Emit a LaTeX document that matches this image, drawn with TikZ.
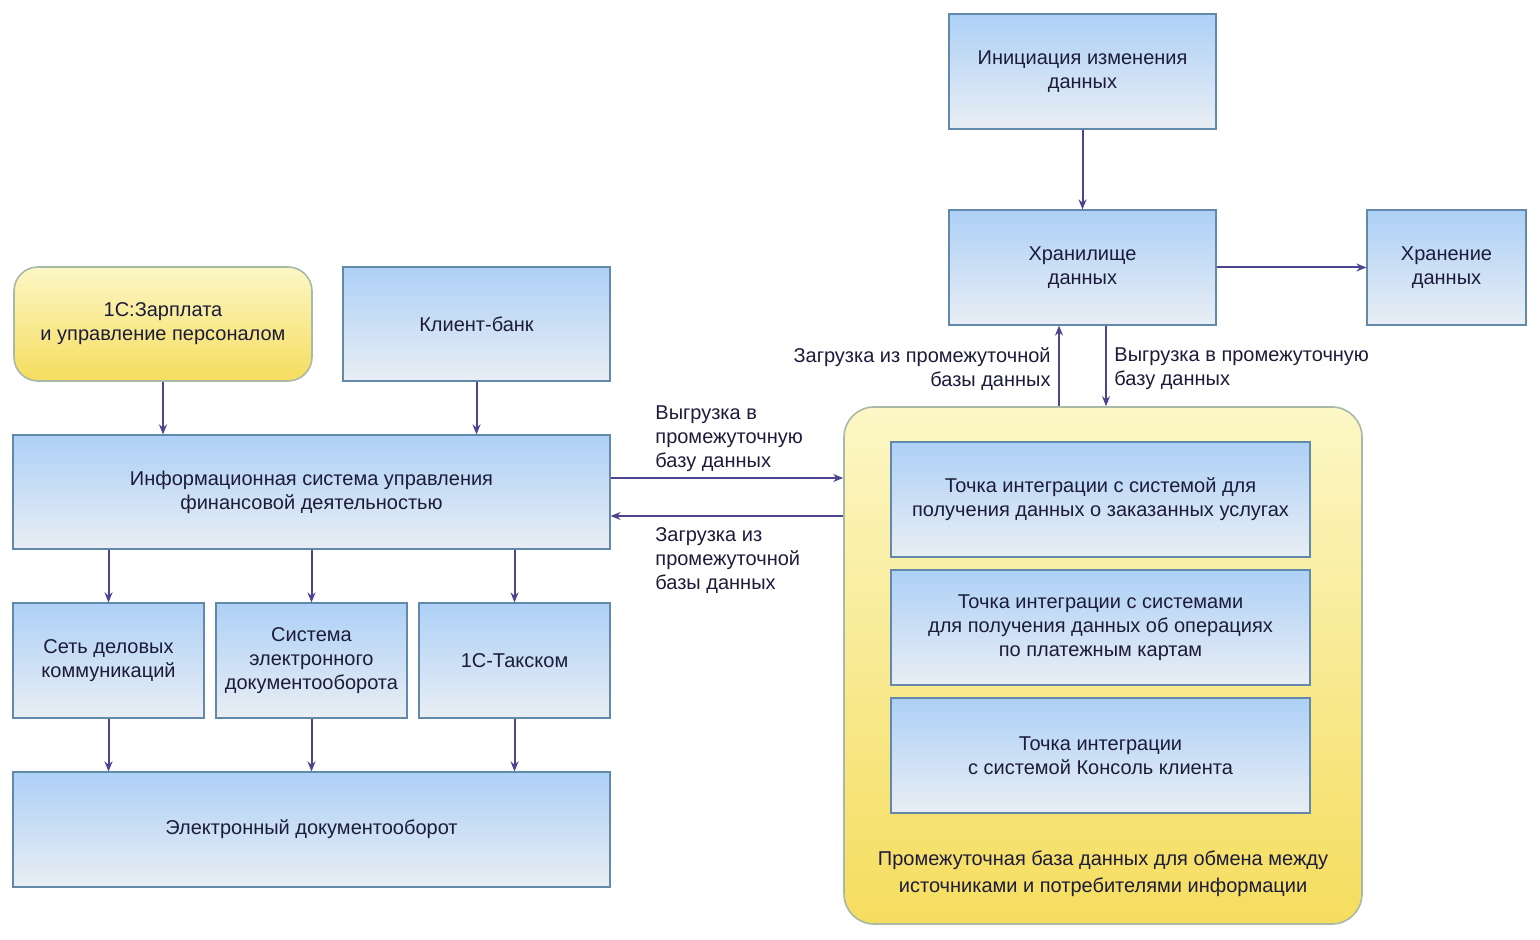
\documentclass[tikz,border=0pt]{standalone}
\usepackage{fontspec}
\setmainfont{Liberation Sans}
\usetikzlibrary{arrows.meta}
\definecolor{bluetop}{HTML}{ADD0F6}
\definecolor{bluebot}{HTML}{E9EEF4}
\definecolor{blueline}{HTML}{6288AA}
\definecolor{yeltop}{HTML}{FCF7C6}
\definecolor{yelbot}{HTML}{F5DD5E}
\definecolor{yelline}{HTML}{A9B9A6}
\definecolor{arrowcol}{HTML}{4B4590}
\definecolor{txt}{HTML}{1C1C3A}
\tikzset{
  bluebox/.style={draw=blueline, line width=0.6pt, top color=bluetop, bottom color=bluebot,
    inner sep=0pt, align=center, text=txt, font=\fontsize{10}{12}\selectfont},
  yelbox/.style={draw=yelline, line width=0.8pt, top color=yeltop, bottom color=yelbot,
    inner sep=0pt, align=center, text=txt, font=\fontsize{10}{12}\selectfont},
  conn/.style={draw=arrowcol, line width=1pt, -{Stealth[length=5pt,width=4pt]}},
  lbl/.style={inner sep=0pt, text=txt, font=\fontsize{10}{12}\selectfont}
}
\begin{document}
\begin{tikzpicture}[x=0.5pt,y=-0.5pt]
\useasboundingbox (0,0) rectangle (1540,940);
% right top
\node[bluebox, minimum width=133.5pt, minimum height=57.5pt] (init) at (1082.5,71.5) {Инициация изменения\\данных};
\node[bluebox, minimum width=133.5pt, minimum height=57.5pt] (stor) at (1082.5,267.5) {Хранилище\\данных};
\node[bluebox, minimum width=79.5pt, minimum height=57.5pt] (keep) at (1446.5,267.5) {Хранение\\данных};
% left
\node[yelbox, rounded corners=12pt, minimum width=149pt, minimum height=57pt] (zp) at (163,324) {1С:Зарплата\\и управление персоналом};
\node[bluebox, minimum width=133.5pt, minimum height=57pt] (kb) at (476.5,324) {Клиент-банк};
\node[bluebox, minimum width=298.5pt, minimum height=57pt] (inf) at (311.5,492) {Информационная система управления\\финансовой деятельностью};
\node[bluebox, minimum width=95.5pt, minimum height=57.5pt] (set) at (108.5,660.5) {Сеть деловых\\коммуникаций};
\node[bluebox, minimum width=95.5pt, minimum height=57.5pt] (sed) at (311.5,660.5) {Система\\электронного\\документооборота};
\node[bluebox, minimum width=95.5pt, minimum height=57.5pt] (tax) at (514.5,660.5) {1С-Такском};
\node[bluebox, minimum width=298.5pt, minimum height=57.5pt] (edo) at (311.5,829.5) {Электронный документооборот};
% big yellow
\node[yelbox, rounded corners=15pt, minimum width=259pt, minimum height=258.5pt] (big) at (1103,665.5) {};
\node[lbl, align=center, font=\fontsize{10}{13.5}\selectfont] (biglbl) at (1103,874) {Промежуточная база данных для обмена между\\источниками и потребителями информации};
\node[bluebox, minimum width=209.5pt, minimum height=57.5pt] (in1) at (1100.5,499.5) {Точка интеграции с системой для\\получения данных о заказанных услугах};
\node[bluebox, minimum width=209.5pt, minimum height=57.5pt] (in2) at (1100.5,627.5) {Точка интеграции с системами\\для получения данных об операциях\\по платежным картам};
\node[bluebox, minimum width=209.5pt, minimum height=57.5pt] (in3) at (1100.5,755.5) {Точка интеграции\\с системой Консоль клиента};
% connectors
\draw[conn] (init) -- (stor);
\draw[conn] (stor) -- (keep);
\draw[conn] (zp) -- (zp |- inf.north);
\draw[conn] (kb) -- (kb |- inf.north);
\draw[conn] (inf.south -| set) -- (set);
\draw[conn] (inf.south -| sed) -- (sed);
\draw[conn] (inf.south -| tax) -- (tax);
\draw[conn] (set) -- (set |- edo.north);
\draw[conn] (sed) -- (sed |- edo.north);
\draw[conn] (tax) -- (tax |- edo.north);
\draw[conn] ([yshift=7pt]inf.east) -- ([yshift=7pt]inf.east -| big.west);
\draw[conn] ([yshift=-12pt]inf.east -| big.west) -- ([yshift=-12pt]inf.east);
\draw[conn] ([xshift=-11.75pt]stor.south |- big.north) -- ([xshift=-11.75pt]stor.south);
\draw[conn] ([xshift=11.75pt]stor.south) -- ([xshift=11.75pt]stor.south |- big.north);
% labels
\node[lbl, anchor=west, align=left] (l1) at (655,439) {Выгрузка в\\промежуточную\\базу данных};
\node[lbl, anchor=west, align=left] (l2) at (655,561) {Загрузка из\\промежуточной\\базы данных};
\node[lbl, anchor=east, align=right] (l3) at (1051,369) {Загрузка из промежуточной\\базы данных};
\node[lbl, anchor=west, align=left] (l4) at (1114,369) {Выгрузка в промежуточную\\базу данных};
\end{tikzpicture}
\end{document}
